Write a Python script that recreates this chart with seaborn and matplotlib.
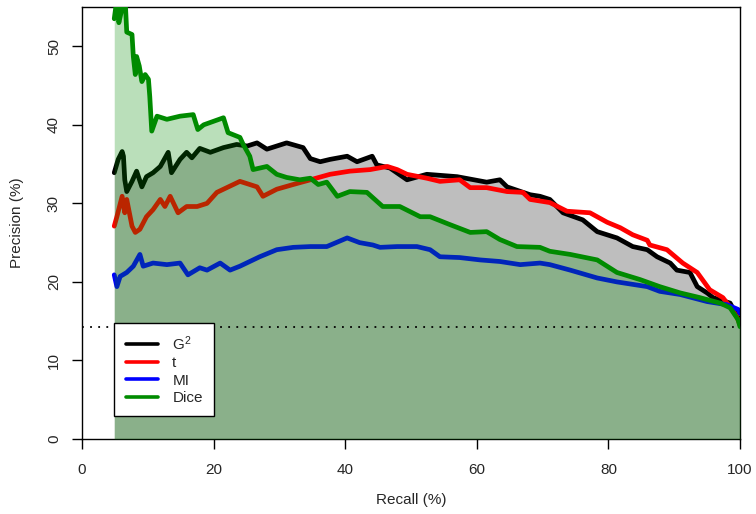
import matplotlib
matplotlib.use("Agg")
import matplotlib.pyplot as plt
import seaborn as sns
import pandas as pd
from matplotlib.lines import Line2D

# recall / precision (%)
g2_recall = [4.9, 5.5, 6.1, 6.3, 6.5, 6.8, 7.6, 8.3, 9.1, 9.8, 10.8, 11.9, 13.1, 13.6, 14.9,
             15.9, 16.7, 17.9, 19.5, 21.5, 23.5, 25.1, 26.6, 28.1, 31.1, 33.6, 34.7, 36.2,
             37.7, 40.3, 41.8, 44.1, 44.8, 46.8, 49.4, 52.4, 57.0, 61.5, 63.5, 64.6, 68.1,
             69.6, 71.1, 73.1, 76.1, 78.3, 81.3, 83.7, 85.9, 87.4, 89.4, 90.4, 92.4, 93.5,
             95.0, 95.9, 98.5, 100]
g2_prec = [33.9, 35.6, 36.6, 36.0, 33.0, 31.5, 32.8, 34.1, 32.1, 33.4, 33.9, 34.7, 36.5, 33.9,
           35.6, 36.5, 35.8, 37.0, 36.5, 37.1, 37.5, 37.3, 37.7, 36.9, 37.7, 37.1, 35.7, 35.3,
           35.6, 36.0, 35.3, 36.0, 34.9, 34.5, 33.0, 33.7, 33.4, 32.7, 33.0, 32.1, 31.1, 30.9,
           30.5, 28.8, 27.9, 26.4, 25.6, 24.5, 24.1, 23.2, 22.4, 21.5, 21.2, 19.4, 18.6, 18.0,
           17.3, 15.0]

t_recall = [4.9, 5.3, 6.1, 6.5, 6.8, 7.6, 8.1, 8.8, 9.8, 10.8, 11.9, 12.6, 13.4, 14.6, 15.9,
            17.5, 19.0, 20.5, 23.0, 24.0, 25.5, 26.6, 27.5, 29.6, 32.1, 34.7, 37.7, 40.7,
            43.8, 46.4, 47.9, 49.4, 52.4, 54.4, 57.4, 59.0, 61.5, 64.6, 67.0, 68.1, 69.6,
            71.1, 73.7, 77.2, 79.8, 81.8, 83.7, 85.9, 86.3, 88.9, 91.3, 93.5, 95.4, 97.4,
            98.5, 99.5, 100]
t_prec = [27.1, 28.3, 30.9, 28.8, 30.5, 27.1, 26.3, 26.7, 28.3, 29.2, 30.5, 29.6, 30.9, 28.8,
          29.6, 29.6, 30.0, 31.4, 32.4, 32.8, 32.4, 32.1, 30.9, 31.8, 32.4, 33.0, 33.7, 34.1,
          34.3, 34.7, 34.3, 33.7, 33.2, 32.8, 33.0, 32.0, 32.0, 31.5, 31.4, 30.5, 30.3, 30.1,
          29.0, 28.8, 27.6, 26.9, 26.0, 25.3, 24.7, 24.1, 22.4, 21.2, 19.0, 18.0, 16.8, 15.6,
          14.5]

mi_recall = [4.9, 5.3, 5.8, 6.8, 7.8, 8.8, 9.3, 10.8, 12.9, 14.9, 16.1, 17.9, 19.0, 21.0, 22.5,
             24.0, 27.0, 29.6, 32.1, 34.7, 37.2, 40.3, 42.2, 44.2, 45.3, 47.9, 50.9, 52.9,
             54.4, 57.4, 60.5, 63.5, 66.6, 69.6, 71.1, 74.2, 78.3, 81.3, 85.9, 87.8, 90.9,
             95.0, 98.0, 99.7, 100]
mi_prec = [20.9, 19.4, 20.7, 21.2, 22.0, 23.5, 22.0, 22.4, 22.2, 22.4, 20.9, 21.8, 21.5, 22.4,
           21.5, 22.0, 23.2, 24.1, 24.4, 24.5, 24.5, 25.6, 25.0, 24.7, 24.4, 24.5, 24.5, 24.1,
           23.2, 23.1, 22.8, 22.6, 22.2, 22.4, 22.2, 21.5, 20.5, 20.0, 19.4, 18.8, 18.4, 17.5,
           17.1, 16.5, 16.0]

dice_recall = [4.9, 5.3, 5.6, 6.0, 6.5, 6.8, 7.6, 7.8, 8.1, 8.3, 8.7, 9.1, 9.6, 10.1, 10.3,
               10.6, 11.4, 12.9, 14.9, 16.9, 17.6, 18.5, 19.5, 21.5, 22.2, 24.0, 24.5, 25.5,
               26.0, 28.1, 29.6, 31.1, 33.1, 34.7, 35.9, 37.2, 38.8, 40.7, 43.3, 45.7, 48.3,
               51.4, 52.9, 55.9, 59.0, 61.5, 63.5, 66.1, 69.6, 71.1, 74.2, 78.3, 81.3, 84.8,
               87.8, 90.9, 93.9, 97.0, 98.5, 99.7, 100]
dice_prec = [53.5, 56.0, 53.0, 54.5, 57.0, 51.8, 51.5, 48.7, 46.4, 48.7, 47.5, 45.5, 46.4, 45.8,
             43.6, 39.2, 41.1, 40.7, 41.1, 41.3, 39.4, 40.0, 40.3, 40.9, 39.0, 38.4, 37.5, 36.0,
             34.3, 34.7, 33.7, 33.3, 33.0, 33.2, 32.4, 32.7, 30.9, 31.5, 31.4, 29.6, 29.6, 28.3,
             28.3, 27.3, 26.3, 26.4, 25.4, 24.5, 24.4, 23.9, 23.5, 22.8, 21.2, 20.3, 19.4, 18.6,
             18.0, 17.3, 16.7, 15.2, 14.3]

baseline = 14.3
labels = [r"$\mathregular{G^2}$", "t", "MI", "Dice"]
colors = ["black", "red", "blue", "#008B00"]

sns.set_style("ticks")
plt.rcParams["font.family"] = ["Liberation Sans", "DejaVu Sans"]

g2 = pd.DataFrame({"recall": g2_recall, "precision": g2_prec})
t = pd.DataFrame({"recall": t_recall, "precision": t_prec})
mi = pd.DataFrame({"recall": mi_recall, "precision": mi_prec})
dice = pd.DataFrame({"recall": dice_recall, "precision": dice_prec})

fig = plt.figure(figsize=(7.56, 5.14), dpi=100)
ax = fig.add_axes([82 / 756, 75 / 514, 658 / 756, 432 / 514])

# grey area under G2, then the lines, then translucent green area under Dice
ax.fill_between(g2["recall"], 0, g2["precision"], color="#BEBEBE", lw=0, zorder=1)
for df, col in zip([g2, t, mi], colors[:3]):
    sns.lineplot(data=df, x="recall", y="precision", color=col, lw=3.4, ax=ax,
                 zorder=2, solid_joinstyle="round")
ax.fill_between(dice["recall"], 0, dice["precision"], color=(0, 139 / 255, 0, 0.27),
                lw=0, zorder=3)
sns.lineplot(data=dice, x="recall", y="precision", color=colors[3], lw=3.4, ax=ax,
             zorder=4, solid_joinstyle="round")

ax.axhline(baseline, color="black", lw=1.3, ls=(0, (1, 3.5)), zorder=5)

ax.set_xlim(0, 100)
ax.set_ylim(0, 55)
ax.set_xticks([0, 20, 40, 60, 80, 100])
ax.set_yticks([0, 10, 20, 30, 40, 50])
ax.tick_params(axis="both", length=7.2, width=1, color="black", labelsize=11)
ax.tick_params(axis="x", pad=10)
ax.tick_params(axis="y", pad=8)
for lab in ax.get_yticklabels():
    lab.set_rotation(90)
    lab.set_va("center")
for sp in ax.spines.values():
    sp.set_color("black")
    sp.set_linewidth(1)

ax.set_xlabel("Recall (%)", fontsize=11)
ax.set_ylabel("Precision (%)", fontsize=11)
ax.xaxis.set_label_coords(0.5, -0.125)
ax.yaxis.set_label_coords(-0.088, 0.5)

handles = [Line2D([], [], color=c, lw=2.6) for c in colors]
leg = ax.legend(handles, labels, loc="upper left", bbox_to_anchor=(4.9, 14.8),
                bbox_transform=ax.transData, borderaxespad=0, fontsize=11,
                frameon=True, fancybox=False, borderpad=0.75, labelspacing=0.22,
                handlelength=2.1, handletextpad=0.95)
leg.get_frame().set_edgecolor("black")
leg.get_frame().set_linewidth(1)
leg.get_frame().set_alpha(1)
leg.set_zorder(10)

fig.savefig("out.png", dpi=100)
